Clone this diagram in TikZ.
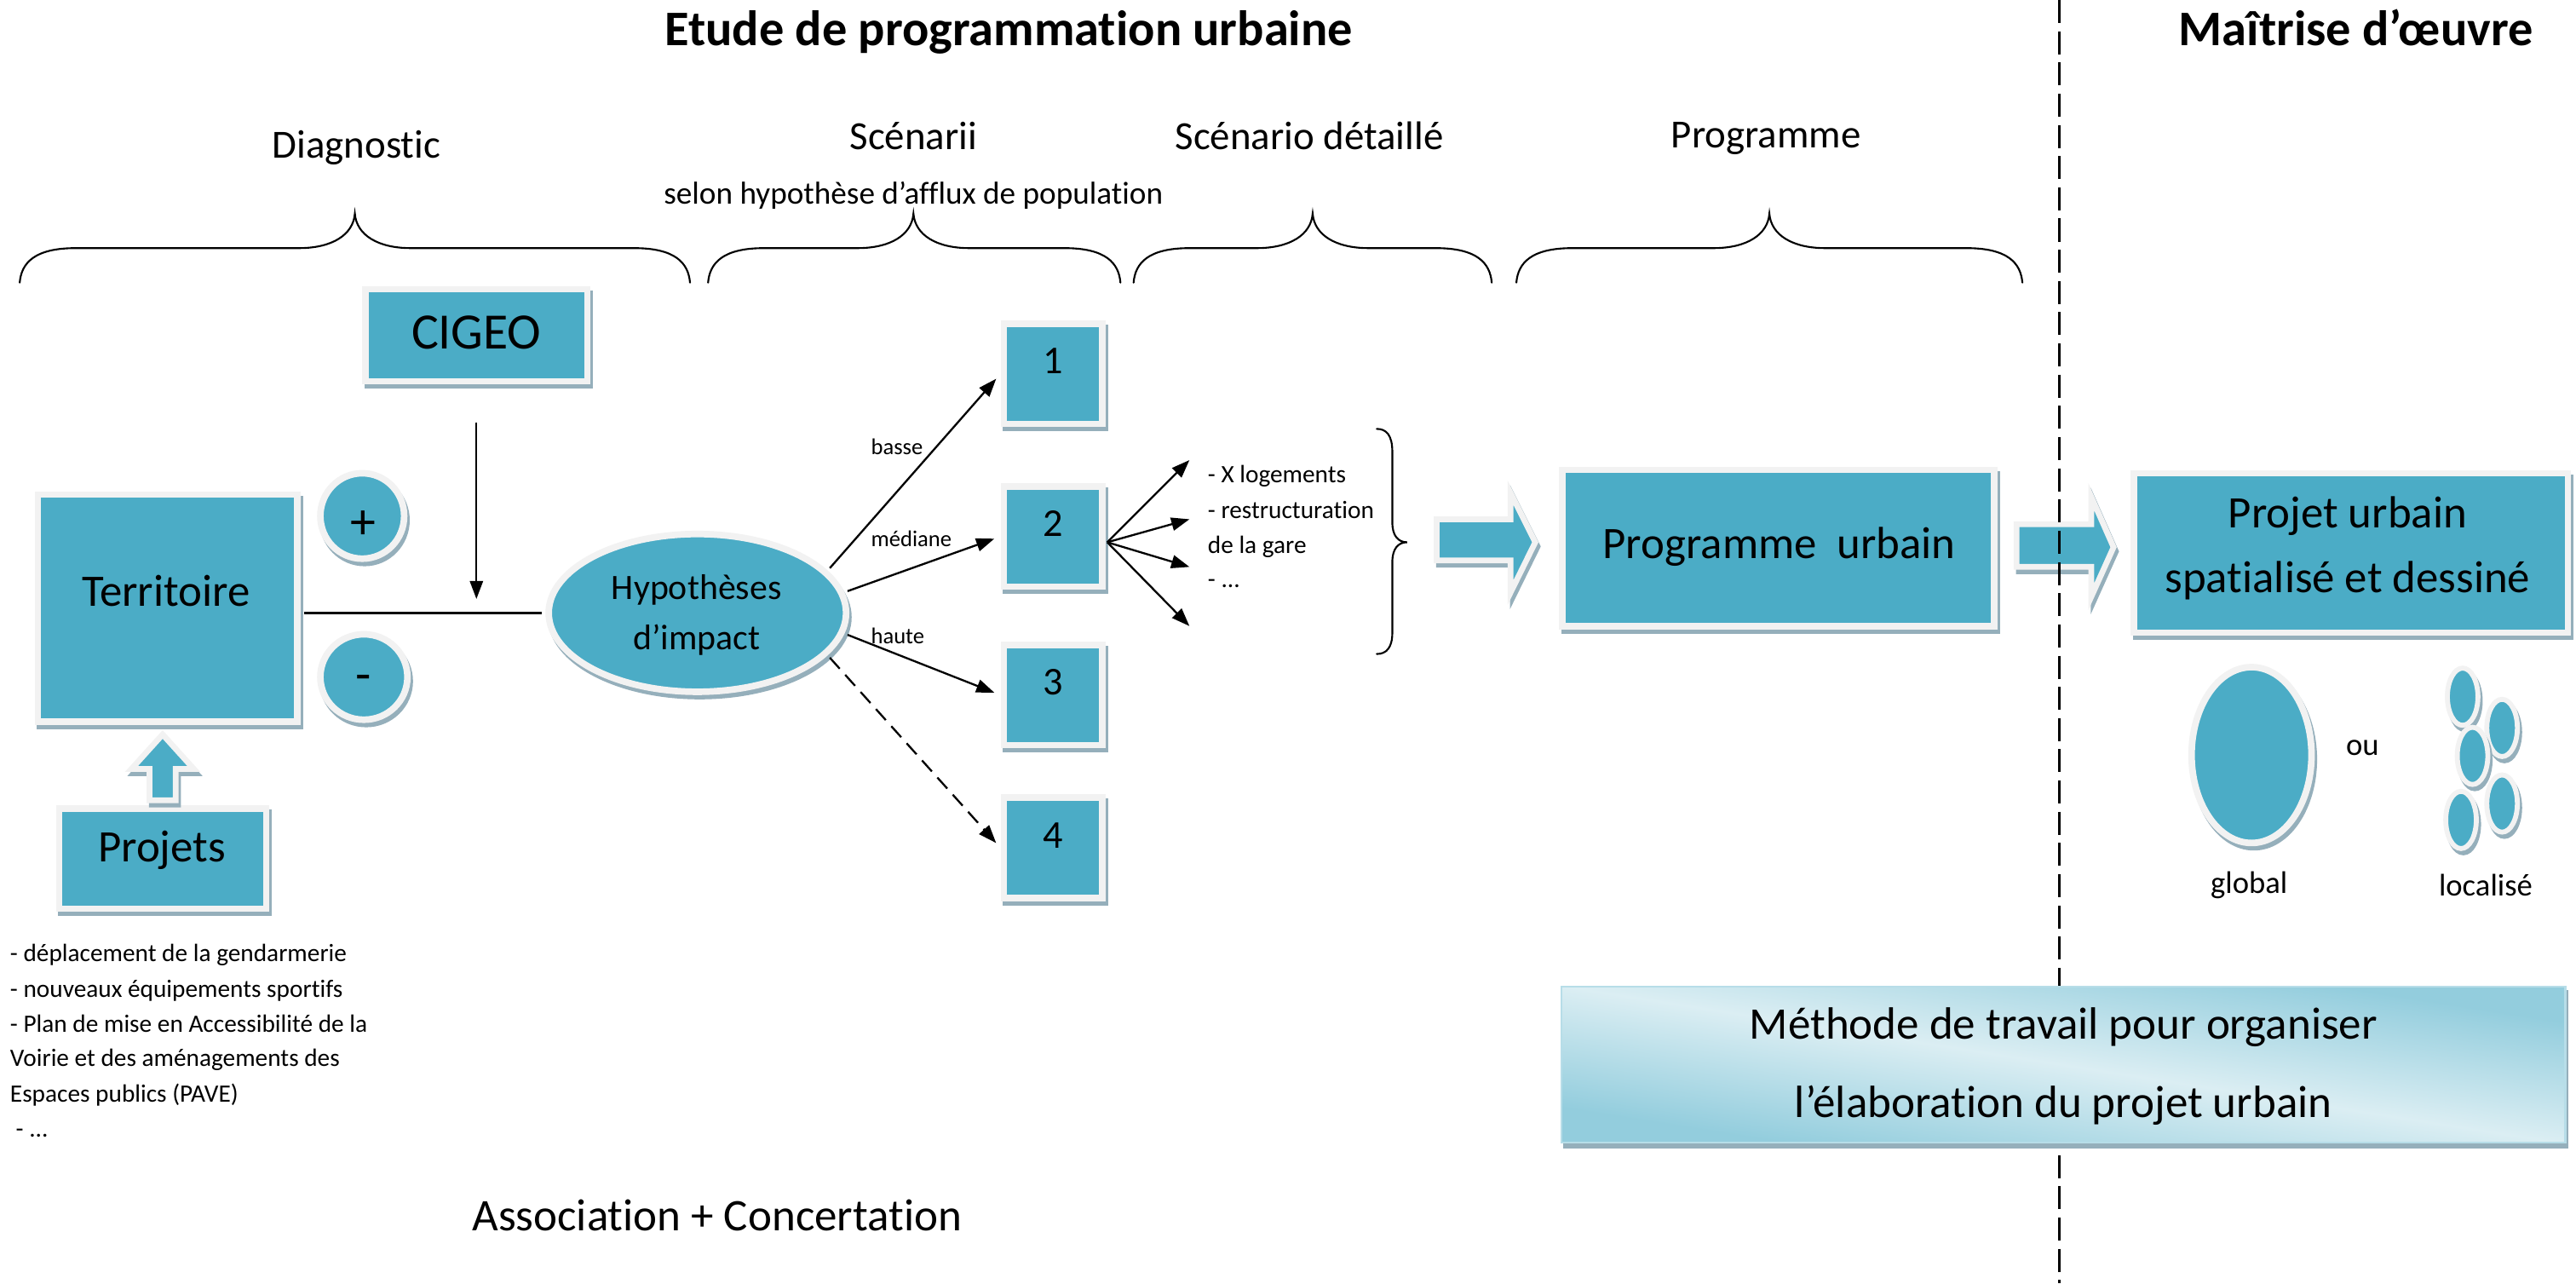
\documentclass[tikz,border=0pt]{standalone}
\usepackage{fontspec}
\setmainfont{Carlito}[Ligatures=CommonOff]
\usetikzlibrary{shapes.geometric,arrows.meta}
\definecolor{tealc}{HTML}{4BACC6}
\definecolor{bordc}{HTML}{F2F2F2}
\definecolor{shadc}{HTML}{95AFBB}
\definecolor{mlight}{HTML}{DBEEF3}
\definecolor{mdark}{HTML}{93CDDD}
\definecolor{mbord}{HTML}{B7DDE8}
\newcommand\myfs[1]{\fontsize{#1}{#1}\selectfont}
\newcommand\mybrace[3]{\draw[bracel] (#1,172) .. controls (#1+1,160) and (#1+9,151) .. (#1+34,151) -- (#2-34,151) .. controls (#2-14,151) and (#2-1,143) .. (#2,130) .. controls (#2+1,143) and (#2+14,151) .. (#2+34,151) -- (#3-34,151) .. controls (#3-9,151) and (#3-1,160) .. (#3,172);}
% diagonal gradient: light along the top-left / bottom-right diagonal, darker towards the other corners
\pgfdeclarefunctionalshading{methfn}{\pgfpointorigin}{\pgfpoint{612bp}{96bp}}{}{
  96 div exch 612 div add 1 sub abs 1.3 mul dup 1 gt {pop 1} if
  dup -0.283 mul 0.859 add exch
  dup -0.129 mul 0.933 add exch
  -0.086 mul 0.953 add
}
\tikzset{
  shad/.style={preaction={draw=shadc, fill=shadc, line width=#1, transform canvas={shift={(1.4pt,-2.6pt)}}}},
  tbox/.style={shad=4pt, draw=bordc, fill=tealc, line width=4pt, inner sep=0pt, rectangle},
  tell/.style={shad=4pt, draw=bordc, fill=tealc, line width=4pt, inner sep=0pt, ellipse},
  tsmall/.style={shad=3pt, draw=bordc, fill=tealc, line width=3pt, ellipse, inner sep=0pt, minimum width=18.6pt, minimum height=34.8pt},
  blockarr/.style={shad=3.5pt, draw=bordc, fill=tealc, line width=3.5pt, line join=miter},
  lbl/.style={inner sep=0pt, anchor=base},
  lbll/.style={inner sep=0pt, anchor=base west},
  conn/.style={line width=1.2pt, -{Triangle[length=11pt,width=8pt]}},
  plainline/.style={line width=1.2pt},
  bracel/.style={line width=1.1pt, line cap=round},
  divider/.style={line width=1.3pt, dash pattern=on 14pt off 5pt},
}
\begin{document}
\begin{tikzpicture}[x=1pt,y=-1pt]
\useasboundingbox (0,0) rectangle (1568,781);
\fill[white] (0,0) rectangle (1568,781);

% ---------- titles and headers
\node[lbl,font=\myfs{30.3}\bfseries] (title) at (614,28) {Etude de programmation urbaine};
\node[lbl,font=\myfs{30.3}\bfseries] (moe) at (1434,28) {Maîtrise d’œuvre};
\node[lbl,font=\myfs{24.3}] (hdiag) at (217,96) {Diagnostic};
\node[lbl,font=\myfs{24.3}] (hscen) at (556,91) {Scénarii};
\node[lbl,font=\myfs{19.3}] (hsel) at (556,124) {selon hypothèse d’afflux de population};
\node[lbl,font=\myfs{24.3}] (hdet) at (797,91) {Scénario détaillé};
\node[lbl,font=\myfs{24.3}] (hprog) at (1075,90) {Programme};

% ---------- braces
\mybrace{12}{216}{420}
\mybrace{431}{556}{682}
\mybrace{690}{799}{908}
\mybrace{923}{1077}{1231}

% ---------- left part
\node[tbox, minimum width=135pt, minimum height=56pt] (cigeo) at (290,204) {};
\node[lbl,font=\myfs{31}] (cigeot) at (290,212.5) {CIGEO};
\node[tbox, minimum width=158pt, minimum height=138pt] (terr) at (102,370) {};
\node[lbl,font=\myfs{27.4}] (terrt) at (101,369) {Territoire};
\node[tell, minimum width=51pt, minimum height=52pt] (plus) at (220.5,314) {};
\node[lbl,font=\myfs{31}] (plust) at (221,328) {+};
\node[tell, minimum width=53pt, minimum height=52pt] (minus) at (221.5,412) {};
\node[lbl,font=\myfs{31}] (minust) at (221,421) {-};
\node[tbox, minimum width=126pt, minimum height=61pt] (proj) at (99,522.5) {};
\node[lbl,font=\myfs{27.4}] (projt) at (98.5,524.5) {Projets};
\node[tell, minimum width=181pt, minimum height=96pt] (hyp) at (424.5,373) {};
\node[lbl,font=\myfs{21.7}] (hypt1) at (424,365) {Hypothèses};
\node[lbl,font=\myfs{21.7}] (hypt2) at (424,395.6) {d’impact};

% up block arrow Projets -> Territoire
\draw[blockarr] (99,447) -- (118,468) -- (107,468) -- (107,487) -- (91,487) -- (91,468) -- (80,468) -- cycle;

% Territoire -> hypotheses line and CIGEO arrow
\coordinate (join) at (290,373);
\draw[plainline, shorten <=2pt, shorten >=2pt] (hyp.west -| terr.east) -- (hyp.west);
\draw[conn, shorten <=23pt, shorten >=8.5pt] (cigeo.south) -- (cigeo.south |- join);

% projets list
\foreach \t/\yy in {{- déplacement de la gendarmerie}/585.3, {- nouveaux équipements sportifs}/606.9, {- Plan de mise en Accessibilité de la}/628.1, {Voirie et des aménagements des}/648.9, {Espaces publics (PAVE)}/670.5}
  \node[lbll,font=\myfs{15.2}] at (6,\yy) {\t};
\node[lbll,font=\myfs{15.2}] (listend) at (9.5,692) {- ...};

\node[lbl,font=\myfs{27.5}] (assoc) at (436.5,749) {Association + Concertation};

% ---------- scenarios
\node[tbox, minimum width=60pt, minimum height=61pt] (b1) at (641,227.5) {};
\node[tbox, minimum width=60pt, minimum height=61pt] (b2) at (641,326.5) {};
\node[tbox, minimum width=60pt, minimum height=61pt] (b3) at (641,423) {};
\node[tbox, minimum width=60pt, minimum height=61pt] (b4) at (641,516) {};
\node[lbl,font=\myfs{24}] (b1t) at (641,227.5) {1};
\node[lbl,font=\myfs{24}] (b2t) at (641,326.5) {2};
\node[lbl,font=\myfs{24}] (b3t) at (641,423) {3};
\node[lbl,font=\myfs{24}] (b4t) at (641,516) {4};

\draw[conn, shorten <=2pt, shorten >=4pt] (hyp.18) -- (b1.west);
\draw[conn, shorten <=2pt, shorten >=4pt] (hyp.8) -- (b2.west);
\draw[conn, shorten <=2pt, shorten >=4pt] (hyp.-8) -- (b3.west);
\draw[conn, shorten <=2pt, shorten >=4pt, dash pattern=on 9pt off 5pt] (hyp.-18) -- (b4.west);
\node[lbll,font=\myfs{13.8}] (lbasse) at (530,276.7) {basse};
\node[lbll,font=\myfs{13.8}] (lmed) at (530,332.7) {médiane};
\node[lbll,font=\myfs{13.8}] (lhaute) at (530,391.7) {haute};

% fan from scenario 2
\coordinate (fan) at (674,330);
\coordinate (f1) at (724,280);
\coordinate (f2) at (724,316);
\coordinate (f3) at (724,345);
\coordinate (f4) at (724,381);
\foreach \f in {f1,f2,f3,f4} \draw[conn] (fan) -- (\f);
\node[lbll,font=\myfs{15.2}] (d1) at (735,293.6) {- X logements};
\node[lbll,font=\myfs{15.2}] (d2) at (735,315.5) {- restructuration};
\node[lbll,font=\myfs{15.2}] (d3) at (735,336.7) {de la gare};
\node[lbll,font=\myfs{15.2}] (d4) at (735,357.7) {- ...};
\draw[bracel] (838,261) .. controls (844,261) and (847.5,265) .. (847.5,275) -- (847.5,318) .. controls (847.5,326) and (851,330) .. (856.5,330) .. controls (851,330) and (847.5,334) .. (847.5,342) -- (847.5,385) .. controls (847.5,394) and (844,398) .. (838,398);

% ---------- programme
\draw[blockarr] (874.5,316) -- (919.5,316) -- (919.5,300) -- (934.5,330) -- (919.5,360.5) -- (919.5,341) -- (874.5,341) -- cycle;
\node[tbox, minimum width=263pt, minimum height=95pt] (prog) at (1082.5,333.5) {};
\node[lbl,font=\myfs{27.4}] (progt) at (1083,340) {Programme~~urbain};
\draw[blockarr] (1227.5,319) -- (1273,319) -- (1273,302.5) -- (1286.5,333) -- (1273,363) -- (1273,345) -- (1227.5,345) -- cycle;

% ---------- divider
\draw[divider] (1253.5,0) -- (1253.5,781);

% ---------- maitrise d'oeuvre
\node[tbox, minimum width=264pt, minimum height=97pt] (pu) at (1431,336.5) {};
\node[lbl,font=\myfs{27.4}] (put1) at (1429,321) {Projet urbain};
\node[lbl,font=\myfs{27.4}] (put2) at (1429,360.5) {spatialisé et dessiné};
\node[tell, minimum width=73pt, minimum height=107pt] (glob) at (1370.5,459.5) {};
\node[tsmall] (s1) at (1499,424) {};
\node[tsmall] (s2) at (1523,443) {};
\node[tsmall] (s3) at (1505,460) {};
\node[tsmall] (s4) at (1523,489) {};
\node[tsmall] (s5) at (1498,499) {};
\node[lbl,font=\myfs{19}] (ou) at (1438,459.5) {ou};
\node[lbl,font=\myfs{19}] (globt) at (1369,543.6) {global};
\node[lbl,font=\myfs{19}] (loct) at (1513,545) {localisé};

% ---------- methode
\node[shad=1.2pt, draw=mbord, fill=mlight, line width=1.2pt, rectangle, inner sep=0pt, minimum width=611pt, minimum height=95pt,
      path picture={\node[inner sep=0pt, outer sep=0pt] at (path picture bounding box.center) {\pgfuseshading{methfn}};}] (meth) at (1256,648) {};
\node[lbl,font=\myfs{27.5}] (metht1) at (1256,632.5) {Méthode de travail pour organiser};
\node[lbl,font=\myfs{27.5}] (metht2) at (1256,680) {l’élaboration du projet urbain};
\end{tikzpicture}
\end{document}
